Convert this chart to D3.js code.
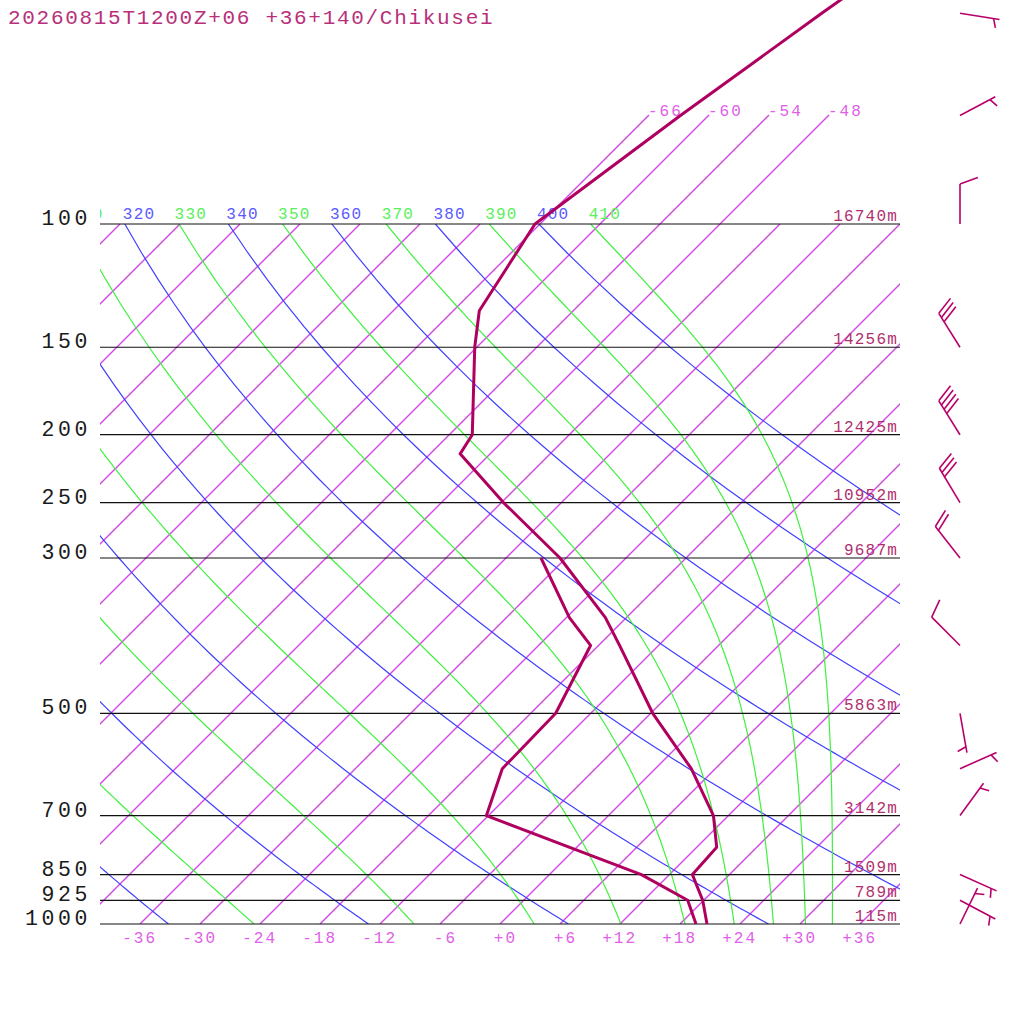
<!DOCTYPE html>
<html lang="en">
<head>
<meta charset="utf-8">
<title>Skew-T: Chikusei</title>
<script src="https://cdn.jsdelivr.net/npm/d3@7"></script>
<style>
    body { margin: 0; background: white; }
    text { font-family: "Liberation Mono", "DejaVu Sans Mono", monospace; }
</style>
</head>
<body>
<div id="chart"></div>
<script>

// Sounding profile (hPa, degC)
var soundingP = [1000, 925, 850, 777, 700, 600, 500, 400, 365, 300, 250, 213, 200, 150, 133, 100, 70, 50, 30];
var soundingT = [20.7, 17.9, 14.3, 14.0, 10.5, 3.6, -5.8, -15.9, -20.1, -30.6, -41.8, -51.0, -51.7, -60.2, -63.4, -66.5, -62.8, -58.9, -52.5];
var soundingTd = [19.6, 16.4, 9.2, -0.7, -12.2, -15.3, -15.5, -18.8, -23.7, -32.5, null, null, null, null, null, null, null, null, null];

// Labelled pressure levels and geopotential heights
var levelP = [100, 150, 200, 250, 300, 500, 700, 850, 925, 1000];
var levelHeight = ["16740m", "14256m", "12425m", "10952m", "9687m", "5863m", "3142m", "1509m", "789m", "115m"];

// Winds (direction from, degrees; speed, knots)
var windP = [1000, 925, 850, 700, 600, 500, 400, 300, 250, 200, 150, 100, 70, 50];
var windDir = [26, 118, 114, 36, 66, 170, 315, 322, 329, 328, 328, 0, 62, 99];
var windSpeed = [5, 5, 5, 5, 5, 5, 10, 20, 30, 40, 30, 10, 5, 5];

// Reference lines
var isothermLabels = [-36, -30, -24, -18, -12, -6, 0, 6, 12, 18, 24, 30, 36];
var topIsotherms = [-66, -60, -54, -48];
var dryTheta = [240, 260, 280, 300, 320, 340, 360, 380, 400];
var moistThetaE = [250, 270, 290, 310, 330, 350, 370, 390, 410];
var thetaLabels = [310, 320, 330, 340, 350, 360, 370, 380, 390, 400, 410];

var title = "20260815T1200Z+06 +36+140/Chikusei";

//Width and height
var w = 1024;
var h = 1024;

var dryColor = "#4040ff", moistColor = "#40f040", isoColor = "#d448e6", profColor = "#b0005f";

//Pressure (log) and temperature scales, skewed 45 degrees
var y = d3.scaleLog().domain([1000, 100]).range([924, 224]);
var x = d3.scaleLinear().domain([-40, 40]).range([100, 900]);
function skewX(t, p) { return x(t) + (y(1000) - y(p)); }

var kappa = 0.286;

//Saturated equivalent potential temperature (Bolton 1980)
function thetaESat(tc, p) {
    var es = 6.112 * Math.exp(17.67 * tc / (tc + 243.5));
    var r = 0.622 * es / (p - es);
    var tk = tc + 273.15;
    return tk * Math.pow(1000 / p, 0.2854 * (1 - 0.28 * r)) *
        Math.exp((3.376 / tk - 0.00254) * r * 1000 * (1 + 0.81 * r));
}
function moistT(te, p) {
    var lo = -160, hi = 60;
    for (var k = 0; k < 50; k++) {
        var mid = (lo + hi) / 2;
        if (thetaESat(mid, p) > te) hi = mid; else lo = mid;
    }
    return (lo + hi) / 2;
}

var svg = d3.select("#chart")
    .append("svg")
    .attr("width", w)
    .attr("height", h);

svg.append("rect").attr("width", w).attr("height", h).attr("fill", "white");

var defs = svg.append("defs");
defs.append("clipPath").attr("id", "box")
    .append("rect").attr("x", 100).attr("y", 224).attr("width", 800).attr("height", 700);
defs.append("clipPath").attr("id", "lbl")
    .append("rect").attr("x", 100).attr("y", 0).attr("width", 924).attr("height", h);

var box = svg.append("g").attr("clip-path", "url(#box)");
var pLevels = d3.range(1000, 99, -10);

//Isotherms
box.append("g")
    .style("stroke", isoColor)
    .style("stroke-width", "1.4px")
    .selectAll("line")
    .data(d3.range(-108, 43, 6))
    .enter()
    .append("line")
    .attr("x1", function (t) { return skewX(t, 1000); })
    .attr("y1", y(1000))
    .attr("x2", function (t) { return skewX(t, 100); })
    .attr("y2", y(100));

//Isotherms continued above 100 hPa
var pTop = y.invert(115);
svg.append("g")
    .style("stroke", isoColor)
    .style("stroke-width", "1.4px")
    .selectAll("line")
    .data(topIsotherms)
    .enter()
    .append("line")
    .attr("x1", function (t) { return skewX(t, 100); })
    .attr("y1", y(100))
    .attr("x2", function (t) { return skewX(t, pTop); })
    .attr("y2", y(pTop));

svg.append("g")
    .selectAll("text")
    .data(topIsotherms)
    .enter()
    .append("text")
    .attr("x", function (t) { return skewX(t, pTop) - 1; })
    .attr("y", 116)
    .attr("font-size", 16)
    .attr("letter-spacing", 2)
    .attr("fill", "#e060e8")
    .text(function (t) { return String(t); });

//Dry adiabats
var dryLine = d3.line()
    .x(function (d) { return skewX(d.t, d.p); })
    .y(function (d) { return y(d.p); });

box.append("g")
    .selectAll("path")
    .data(dryTheta)
    .enter()
    .append("path")
    .attr("d", function (th) {
        return dryLine(pLevels.map(function (p) {
            return { p: p, t: th * Math.pow(p / 1000, kappa) - 273.15 };
        }));
    })
    .style("fill", "none")
    .style("stroke", dryColor)
    .style("stroke-width", "1.2px");

//Moist (pseudo) adiabats
box.append("g")
    .selectAll("path")
    .data(moistThetaE)
    .enter()
    .append("path")
    .attr("d", function (te) {
        return dryLine(pLevels.map(function (p) {
            return { p: p, t: moistT(te, p) };
        }));
    })
    .style("fill", "none")
    .style("stroke", moistColor)
    .style("stroke-width", "1.2px");

//Theta labels along the 100 hPa line
svg.append("g").attr("clip-path", "url(#lbl)")
    .selectAll("text")
    .data(thetaLabels)
    .enter()
    .append("text")
    .attr("x", function (th) { return skewX(th * Math.pow(0.1, kappa) - 273.15, 100) - 2; })
    .attr("y", 219)
    .attr("font-size", 16)
    .attr("letter-spacing", 1.2)
    .attr("fill", function (th) { return th % 20 === 0 ? "#5a5aff" : "#5af05a"; })
    .text(function (th) { return th; });

//Pressure lines
svg.append("g")
    .selectAll("line")
    .data(levelP)
    .enter()
    .append("line")
    .attr("x1", 100)
    .attr("x2", 900)
    .attr("y1", function (p) { return y(p); })
    .attr("y2", function (p) { return y(p); })
    .style("stroke", "#111")
    .style("stroke-width", "1.2px");

//Pressure labels
svg.append("g")
    .selectAll("text")
    .data(levelP)
    .enter()
    .append("text")
    .attr("x", 91)
    .attr("y", function (p) { return y(p) + 1; })
    .attr("text-anchor", "end")
    .attr("font-size", 21.5)
    .attr("letter-spacing", 3.6)
    .attr("fill", "#1a1a1a")
    .text(function (p) { return p; });

//Heights
svg.append("g")
    .selectAll("text")
    .data(levelP)
    .enter()
    .append("text")
    .attr("x", 898)
    .attr("y", function (p) { return y(p) - 3; })
    .attr("text-anchor", "end")
    .attr("font-size", 16)
    .attr("letter-spacing", 1.2)
    .attr("fill", "#b0306e")
    .text(function (p, i) { return levelHeight[i]; });

//Temperature axis labels
svg.append("g")
    .selectAll("text")
    .data(isothermLabels)
    .enter()
    .append("text")
    .attr("x", function (t) { return skewX(t, 1000) + 17; })
    .attr("y", 943)
    .attr("text-anchor", "end")
    .attr("font-size", 16)
    .attr("letter-spacing", 2)
    .attr("fill", "#e060e8")
    .text(function (t) { return t < 0 ? String(t) : "+" + t; });

//Sounding profiles
var sounding = soundingP.map(function (p, i) {
    return { p: p, t: soundingT[i], td: soundingTd[i] };
});

svg.append("path")
    .datum(sounding)
    .attr("d", d3.line()
        .x(function (d) { return skewX(d.t, d.p); })
        .y(function (d) { return y(d.p); }))
    .style("fill", "none")
    .style("stroke", profColor)
    .style("stroke-width", "3px")
    .style("stroke-linejoin", "round");

svg.append("path")
    .datum(sounding)
    .attr("d", d3.line()
        .defined(function (d) { return d.td !== null; })
        .x(function (d) { return skewX(d.td, d.p); })
        .y(function (d) { return y(d.p); }))
    .style("fill", "none")
    .style("stroke", profColor)
    .style("stroke-width", "3px")
    .style("stroke-linejoin", "round");

//Wind barbs
var barbs = svg.append("g")
    .style("stroke", "#b8006a")
    .style("stroke-width", "1.6px")
    .style("fill", "none");

windP.forEach(function (p, i) {
    var b = windDir[i] * Math.PI / 180;
    var ux = Math.sin(b), uy = -Math.cos(b);
    var c = b + 70 * Math.PI / 180;
    var bx = Math.sin(c), by = -Math.cos(c);
    var x0 = 960, y0 = y(p), len = 40;

    barbs.append("line")
        .attr("x1", x0).attr("y1", y0)
        .attr("x2", x0 + ux * len).attr("y2", y0 + uy * len);

    var spd = Math.round(windSpeed[i] / 5) * 5;
    var full = Math.floor(spd / 10);
    var half = spd % 10 >= 5;
    var pos = len;
    for (var k = 0; k < full; k++) {
        barbs.append("line")
            .attr("x1", x0 + ux * pos).attr("y1", y0 + uy * pos)
            .attr("x2", x0 + ux * pos + bx * 19).attr("y2", y0 + uy * pos + by * 19);
        pos -= 5;
    }
    if (half) {
        if (full === 0) pos -= 6;
        barbs.append("line")
            .attr("x1", x0 + ux * pos).attr("y1", y0 + uy * pos)
            .attr("x2", x0 + ux * pos + bx * 9.5).attr("y2", y0 + uy * pos + by * 9.5);
    }
});

//Title
svg.append("text")
    .attr("x", 8)
    .attr("y", 24)
    .attr("font-size", 21)
    .attr("letter-spacing", 1.7)
    .attr("fill", "#b8307a")
    .text(title);

</script>
</body>
</html>
